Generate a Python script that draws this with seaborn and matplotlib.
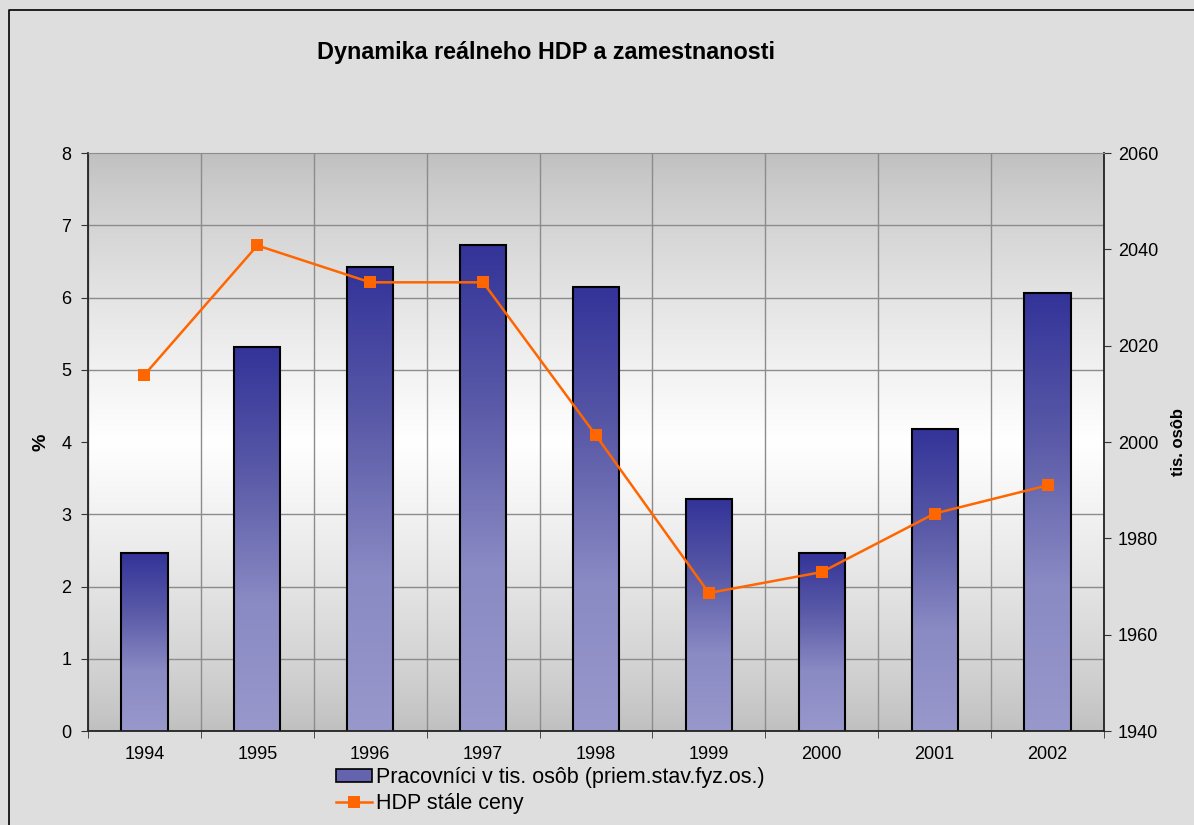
import numpy as np
import matplotlib
matplotlib.use("Agg")
import matplotlib.pyplot as plt
import seaborn as sns
from matplotlib.colors import LinearSegmentedColormap
from matplotlib.patches import Patch
from matplotlib.lines import Line2D

# data
roky = ['1994', '1995', '1996', '1997', '1998', '1999', '2000', '2001', '2002']
pracovnici = [1976.9, 2019.8, 2036.4, 2041.0, 2032.1, 1988.1, 1977.0, 2002.8, 2031.0]
hdp = [4.93, 6.72, 6.21, 6.21, 4.09, 1.91, 2.20, 3.01, 3.40]

plt.rcParams['font.family'] = ['Liberation Sans', 'DejaVu Sans']

fig = plt.figure(figsize=(11.94, 8.25), dpi=100, facecolor='#DEDEDE')
pos = [88 / 1194, 1 - 731 / 825, (1104 - 88) / 1194, (731 - 153) / 825]

# background gradient (gray - white - gray)
bg = fig.add_axes(pos, zorder=-1)
bg.axis('off')
t = np.linspace(0, 1, 400)
shade = 0.75 + 0.25 * (1 - np.abs(t - 0.5) * 2) ** 0.8
bg.imshow(np.dstack([shade, shade, shade])[:, None, :].reshape(400, 1, 3),
          extent=[0, 1, 0, 1], aspect='auto', origin='lower')
bg.set_xlim(0, 1)
bg.set_ylim(0, 1)

host = fig.add_axes(pos)
host.patch.set_visible(False)
twin = host.twinx()

# bars: workers (right axis)
sns.barplot(x=roky, y=pracovnici, ax=host, width=0.41, color='#5555A5',
            edgecolor='black', linewidth=1.5)

ymin, ymax = 1940, 2060
cmap = LinearSegmentedColormap.from_list('bar', ['#9898CC', '#8a8ac4', '#5a5aa8', '#333399'])
grad = np.linspace(0, 1, 256).reshape(-1, 1)
for p in host.patches:
    x0, w = p.get_x(), p.get_width()
    top = p.get_y() + p.get_height()
    im = host.imshow(grad, cmap=cmap, extent=[x0, x0 + w, ymin, top],
                     aspect='auto', origin='lower', zorder=1.1)
    im.set_clip_path(p)
    p.set_facecolor('none')
    p.set_zorder(1.2)

# line: HDP (left axis)
sns.pointplot(x=roky, y=hdp, ax=twin, color='#FF6600', markers='s',
              markersize=8.5, linewidth=1.8, errorbar=None)
for ln in twin.lines:
    ln.set_markeredgewidth(0)

host.set_xlim(-0.5, 8.5)
host.set_ylim(ymin, ymax)
twin.set_ylim(0, 8)

# axes sides: bars on right, % on left
host.yaxis.tick_right()
host.yaxis.set_label_position('right')
twin.yaxis.tick_left()
twin.yaxis.set_label_position('left')

host.set_yticks(np.arange(1940, 2061, 20))
host.set_yticks(np.arange(1940, 2061, 15), minor=True)
twin.set_yticks(range(0, 9))

host.set_xticks(range(len(roky)))
host.set_xticklabels(roky)
host.set_xticks(np.arange(-0.5, len(roky), 1), minor=True)

host.set_axisbelow(True)
host.grid(False)
host.grid(which='minor', axis='both', color='#8C8C8C', linewidth=1.0)
twin.grid(False)

host.tick_params(axis='x', which='major', length=0, pad=11, labelsize=13)
host.tick_params(axis='x', which='minor', length=5, direction='out', color='#333333')
host.tick_params(axis='y', which='major', length=5, direction='out', pad=5,
                 labelsize=13, right=True, left=False, color='#333333')
host.tick_params(axis='y', which='minor', length=0, right=False, left=False)
twin.tick_params(axis='y', length=5, direction='out', pad=7, labelsize=13,
                 left=True, right=False, color='#333333')

for s in ['left', 'right', 'bottom']:
    host.spines[s].set_color('#222222')
    host.spines[s].set_linewidth(1.3)
host.spines['top'].set_color('#8C8C8C')
for s in twin.spines.values():
    s.set_visible(False)

host.set_xlabel('')
host.set_ylabel('tis. osôb', fontsize=12, fontweight='bold')
host.yaxis.set_label_coords((1171 - 88) / 1016, 0.5)
twin.set_xlabel('')
twin.set_ylabel('%', fontsize=14, fontweight='bold')
twin.yaxis.set_label_coords((49 - 88) / 1016, 0.5)

fig.text(546 / 1194, 1 - 53 / 825, 'Dynamika reálneho HDP a zamestnanosti',
         fontsize=16.8, fontweight='bold', ha='center', va='center')

handles = [Patch(facecolor='#6464AE', edgecolor='black', linewidth=1.2),
           Line2D([], [], color='#FF6600', marker='s', markersize=8.5,
                  markeredgewidth=0, linewidth=1.8)]
fig.legend(handles, ['Pracovníci v tis. osôb (priem.stav.fyz.os.)', 'HDP stále ceny'],
           loc='upper left', bbox_to_anchor=(336 / 1194, 1 - 767 / 825),
           frameon=False, fontsize=15.5, handlelength=1.67, handleheight=0.55,
           handletextpad=0.2, labelspacing=0.22, borderpad=0, borderaxespad=0)

# outer border line
fig.add_artist(Line2D([9 / 1194, 9 / 1194, 1], [0, 1 - 10 / 825, 1 - 10 / 825],
                      transform=fig.transFigure, color='black', linewidth=1.2))

fig.savefig('out.png', dpi=100, facecolor=fig.get_facecolor())
